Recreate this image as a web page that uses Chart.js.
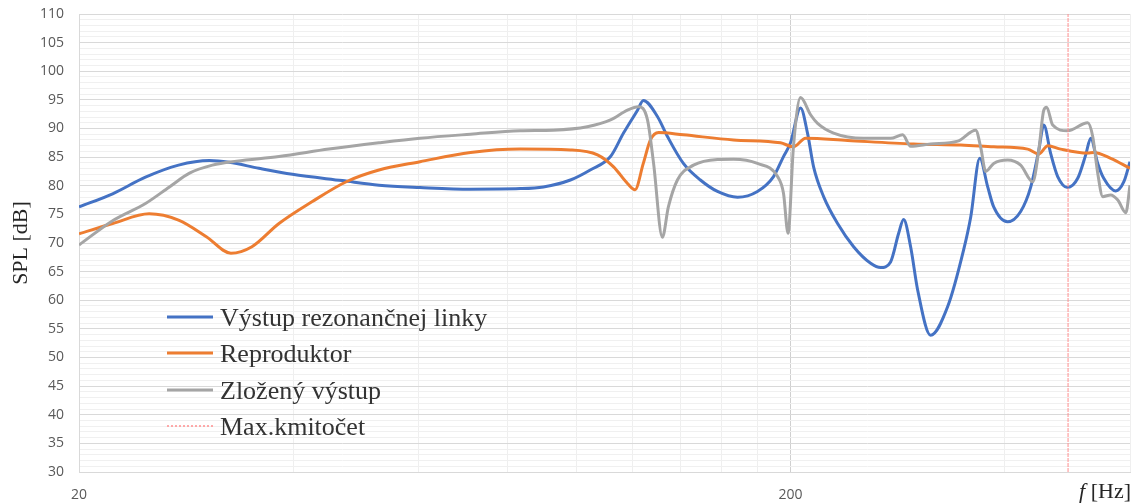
<!DOCTYPE html>
<html>
<head>
<meta charset="utf-8">
<script src="https://cdn.jsdelivr.net/npm/chart.js"></script>
<style>
  body { margin: 0; background: #fff; }
  #wrap { width: 1139px; height: 503px; }
</style>
</head>
<body>
<div id="wrap"><canvas id="graf" width="1139" height="503"></canvas></div>
<script>
// frekvencie [Hz] a hodnoty SPL [dB] odcitane z grafu
const freqRezonancna = [20, 22.3, 24.8, 27.6, 30.5, 32.5, 35.8, 39.9, 46.9, 52.8, 60.3, 71, 83.4, 89.9, 98.1, 104.6, 111.7, 116.5, 121.9, 124.2, 130, 134.3, 141.4, 149.4, 157.9, 168.5, 179.7, 189.3, 195.5, 200, 206.6, 211.3, 215.5, 222.6, 232.9, 245.3, 259.2, 267.7, 276.5, 283.8, 288.4, 295, 301.8, 314.7, 332.6, 350.2, 358.4, 369, 378.6, 386, 403.8, 421.2, 435.2, 446.6, 453.9, 464.2, 474.8, 490.4, 506.6, 519.9, 528.3, 540.5, 551.1, 573, 588.2, 600];
const splRezonancna = [76.3, 78.6, 81.5, 83.6, 84.4, 84.1, 83.05, 82.0, 80.9, 80.1, 79.7, 79.4, 79.5, 79.8, 81.0, 82.75, 85.1, 89.2, 93.2, 94.9, 92.1, 88.6, 83.9, 81.0, 79.0, 78.0, 79.0, 81.6, 85.1, 87.5, 93.6, 89.2, 83.3, 78.1, 73.4, 69.35, 66.45, 65.7, 66.7, 71.7, 74.1, 69.35, 61.8, 53.9, 58.9, 68.8, 74.6, 84.8, 79.8, 76.3, 73.7, 75.5, 79.8, 86.2, 90.6, 85.6, 81.6, 79.7, 81.3, 85.4, 88.3, 83.9, 81.3, 79.1, 80.7, 84.2];

const freqRepro = [20, 22.3, 25.1, 27.6, 30.2, 32.7, 35, 38.2, 42.5, 47.5, 52.8, 60.3, 71, 83.4, 98.1, 107.1, 112.8, 118, 120.9, 124.2, 127.1, 130.5, 141.4, 166.3, 193.6, 201.9, 210, 240.6, 297.9, 347, 386, 430.9, 446.6, 459.8, 479.4, 523.3, 533.5, 563.6, 600];
const splRepro = [71.6, 73.4, 75.1, 74.0, 71.1, 68.2, 69.35, 73.4, 77.2, 80.7, 82.75, 84.2, 85.8, 86.4, 86.25, 85.4, 83.3, 80.4, 79.3, 83.9, 88.0, 89.3, 88.9, 88.0, 87.5, 86.8, 88.3, 87.9, 87.3, 87.1, 86.8, 86.4, 85.55, 87.0, 86.4, 85.7, 85.8, 84.8, 83.05];

const freqZlozeny = [20, 22.3, 24.8, 26.8, 28.6, 30.8, 33.3, 38.2, 44.9, 52.8, 60.3, 71, 83.4, 92.8, 103.6, 111.7, 118, 122.2, 125.9, 128.4, 132.1, 134.7, 138.7, 146.1, 157.9, 166.3, 179.7, 191.8, 195.5, 198.4, 201.9, 206.6, 213.4, 218.3, 229.9, 253.4, 276.5, 287.5, 295, 314.7, 343.6, 364.2, 370, 376.2, 386, 403.8, 421.2, 438, 446.6, 453.9, 458.2, 467.2, 490.4, 523.3, 531.8, 540.5, 549.4, 563.6, 576.8, 592, 600];
const splZlozeny = [69.65, 73.9, 76.9, 79.8, 82.2, 83.6, 84.3, 85.1, 86.4, 87.5, 88.3, 89.0, 89.6, 89.7, 90.3, 91.5, 93.2, 93.8, 91.5, 83.9, 71.0, 76.3, 81.0, 83.6, 84.6, 84.65, 83.9, 81.6, 78.7, 71.7, 86.8, 95.4, 92.4, 90.9, 89.2, 88.3, 88.3, 88.9, 86.9, 87.3, 87.8, 89.7, 86.8, 82.5, 83.9, 84.5, 83.6, 80.7, 86.2, 93.2, 93.7, 90.6, 89.6, 91.0, 88.6, 82.2, 78.1, 78.4, 77.5, 75.3, 80.1];

const maxKmitocet = 491;
const nazvy = ["Výstup rezonančnej linky", "Reproduktor", "Zložený výstup", "Max.kmitočet"];
const farby = ["#4472C4", "#ED7D31", "#A5A5A5", "#FF8F8F"];
const xGrid = [20, 40, 60, 80, 100, 120, 140, 160, 180, 200, 400, 600];
const xPopisy = [20, 200];
const yMin = 30, yMax = 110;

function body(fr, vals) {
    return fr.map((f, i) => ({ x: f, y: vals[i] }));
}

// legenda a nazvy osi
const popisy = {
    id: "popisy",
    afterDraw(chart) {
        const ctx = chart.ctx;
        const a = chart.chartArea;
        ctx.save();
        ctx.fillStyle = "#262626";
        ctx.font = '22px "Liberation Serif"';
        ctx.translate(21, (a.top + a.bottom) / 2);
        ctx.rotate(-Math.PI / 2);
        ctx.textAlign = "center";
        ctx.textBaseline = "middle";
        ctx.fillText("SPL [dB]", 0, 0);
        ctx.restore();

        ctx.save();
        ctx.fillStyle = "#262626";
        ctx.font = '22px "Liberation Serif"';
        ctx.textAlign = "right";
        ctx.textBaseline = "alphabetic";
        const zvysok = " [Hz]";
        const w = ctx.measureText(zvysok).width;
        ctx.fillText(zvysok, 1131, 498);
        ctx.font = 'italic 22px "Liberation Serif"';
        ctx.fillText("f", 1131 - w, 498);
        ctx.restore();

        ctx.save();
        const riadky = [317, 353, 390, 426];
        ctx.font = '26px "Liberation Serif"';
        ctx.textBaseline = "alphabetic";
        for (let i = 0; i < nazvy.length; i++) {
            ctx.beginPath();
            ctx.strokeStyle = farby[i];
            if (i === 3) {
                ctx.lineWidth = 1.5;
                ctx.setLineDash([2, 2]);
            } else {
                ctx.lineWidth = 3;
                ctx.setLineDash([]);
            }
            ctx.moveTo(167, riadky[i]);
            ctx.lineTo(213, riadky[i]);
            ctx.stroke();
            ctx.fillStyle = "#333333";
            ctx.fillText(nazvy[i], 220, riadky[i] + 8.5);
        }
        ctx.restore();
    }
};

const ctx = document.getElementById("graf").getContext("2d");
new Chart(ctx, {
    type: "line",
    data: {
        datasets: [
            {
                label: nazvy[0],
                data: body(freqRezonancna, splRezonancna),
                borderColor: farby[0],
                borderWidth: 3,
                pointRadius: 0,
                cubicInterpolationMode: "monotone",
                order: 3
            },
            {
                label: nazvy[1],
                data: body(freqRepro, splRepro),
                borderColor: farby[1],
                borderWidth: 3,
                pointRadius: 0,
                cubicInterpolationMode: "monotone",
                order: 2
            },
            {
                label: nazvy[2],
                data: body(freqZlozeny, splZlozeny),
                borderColor: farby[2],
                borderWidth: 3,
                pointRadius: 0,
                cubicInterpolationMode: "monotone",
                order: 1
            },
            {
                label: nazvy[3],
                data: [{ x: maxKmitocet, y: yMin }, { x: maxKmitocet, y: yMax }],
                borderColor: farby[3],
                borderWidth: 1,
                borderDash: [4, 1],
                pointRadius: 0,
                tension: 0,
                order: 0
            }
        ]
    },
    options: {
        responsive: false,
        animation: false,
        layout: { padding: { top: 14, right: 9, left: 0, bottom: 0 } },
        plugins: {
            legend: { display: false },
            tooltip: { enabled: false }
        },
        scales: {
            x: {
                type: "logarithmic",
                min: 20,
                max: 600,
                afterBuildTicks(scale) {
                    scale.ticks = xGrid.map(v => ({ value: v }));
                },
                afterFit(scale) {
                    scale.height = 31;
                    scale.paddingLeft = 0;
                    scale.paddingRight = 0;
                },
                ticks: {
                    autoSkip: false,
                    maxRotation: 0,
                    padding: 15,
                    color: "#595959",
                    font: { family: "Open Sans", size: 14 },
                    callback: function (v) {
                        return xPopisy.includes(v) ? String(v) : "";
                    }
                },
                grid: {
                    drawTicks: false,
                    color: function (c) {
                        return c.tick && c.tick.value === 200 ? "#D0D0D0" : "#EFEFEF";
                    }
                },
                border: { color: "#D9D9D9" }
            },
            y: {
                min: yMin,
                max: yMax,
                afterFit(scale) {
                    scale.width = 79;
                    scale.paddingTop = 0;
                    scale.paddingBottom = 0;
                },
                ticks: {
                    stepSize: 1,
                    autoSkip: false,
                    padding: 15,
                    color: "#595959",
                    font: { family: "Open Sans", size: 14 },
                    callback: function (v) {
                        return v % 5 === 0 ? v : "";
                    }
                },
                grid: {
                    drawTicks: false,
                    color: function (c) {
                        return c.tick && c.tick.value % 5 === 0 ? "#D9D9D9" : "#F0F0F0";
                    }
                },
                border: { color: "#D9D9D9" }
            }
        }
    },
    plugins: [popisy]
});
</script>
</body>
</html>
